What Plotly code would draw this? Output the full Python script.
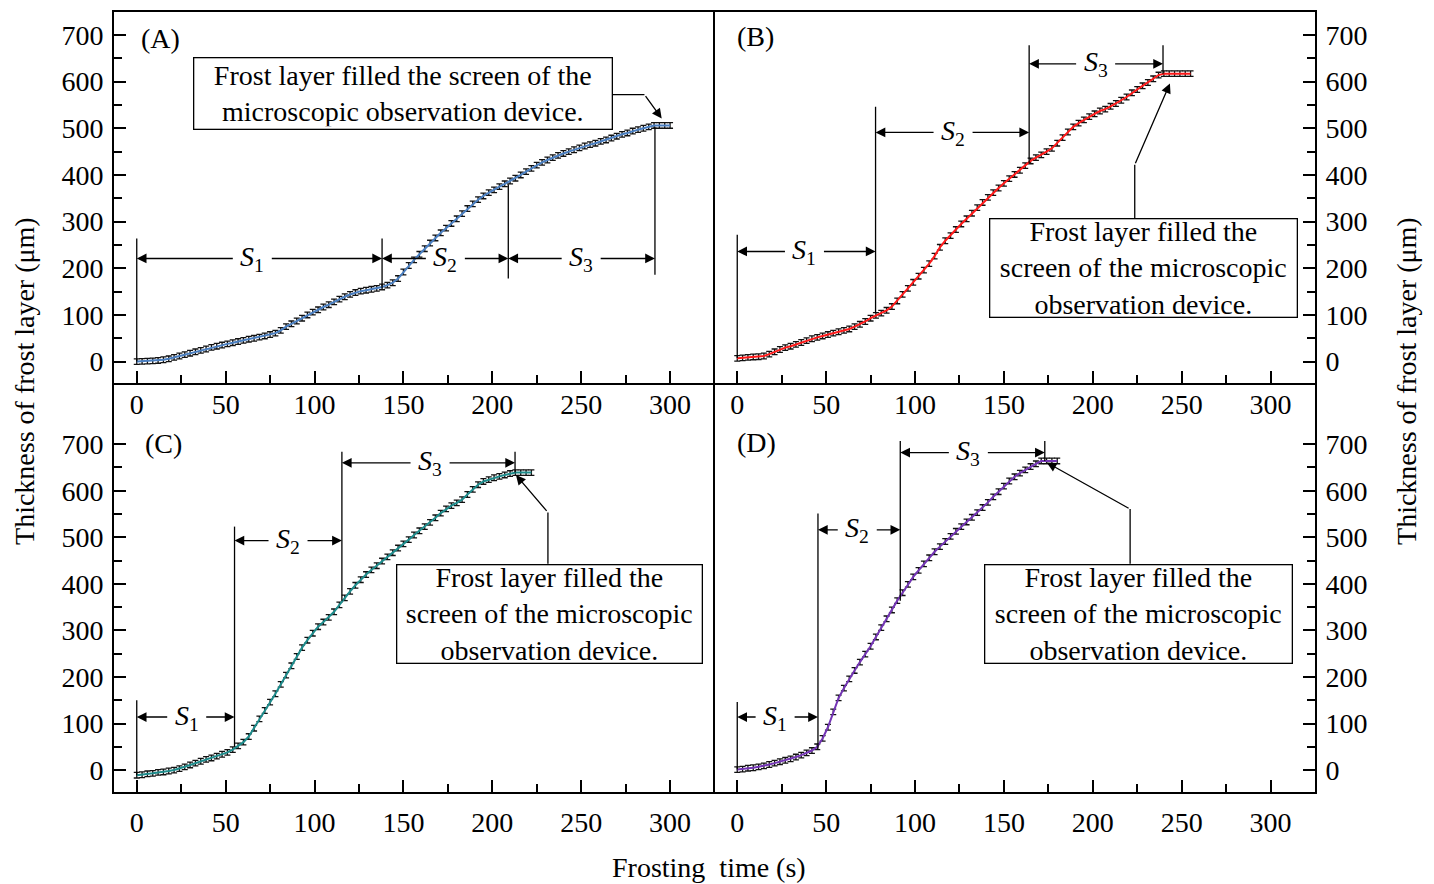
import plotly.graph_objects as go

FONT = "Liberation Serif"
FS = 28

# ---------------- data ----------------
time_A = list(range(0, 301, 3))
thick_A = [0, 0.5, 1, 1.5, 2.5, 4, 6, 9, 12, 15,
           18, 21, 24, 27, 30.5, 33, 35.5, 38, 40.5, 43,
           45.5, 48, 50, 52.5, 55, 58, 61, 67, 75, 81,
           87, 93, 100, 106, 111, 117, 122, 128, 134, 139,
           144, 148, 151, 153, 155, 157, 160, 164, 169, 178,
           192, 206, 218, 230, 242, 254, 265, 276, 286, 296,
           306, 317, 328, 338, 347, 355, 362, 368, 375, 381,
           387, 393, 400, 407, 414, 421, 427, 432, 437, 442,
           446, 450, 454, 458, 462, 465, 468, 472, 475, 479,
           483, 487, 490, 494, 497, 500, 503, 506, 506, 506,
           506]

time_B = list(range(0, 256, 3))
thick_B = [7, 8, 9, 10, 10.5, 12, 16, 21, 26, 30,
           33, 37, 41, 45, 49, 52, 55, 58, 61, 64,
           67, 70, 75, 80, 86, 93, 99, 104, 110, 118,
           130, 144, 157, 170, 183, 196, 210, 226, 245, 259,
           270, 283, 295, 306, 318, 330, 341, 352, 362, 372,
           382, 392, 401, 410, 420, 430, 437, 443, 450, 457,
           468, 480, 492, 503, 511, 518, 525, 531, 537, 541,
           547, 553, 560, 567, 576, 583, 591, 598, 606, 614,
           617, 617, 617, 617, 617, 617]

time_C = list(range(0, 223, 3))
thick_C = [-11, -10, -8, -7, -5, -4, -2, 0, 3, 7,
           11, 15, 19, 23, 26, 30, 34, 38, 44, 52,
           60, 72, 90, 110, 128, 146, 164, 184, 204, 224,
           244, 263, 279, 294, 308, 318, 328, 340, 355, 370,
           384, 397, 409, 420, 430, 439, 449, 458, 467, 477,
           486, 495, 505, 514, 523, 532, 542, 552, 561, 568,
           574, 581, 592, 603, 613, 620, 624, 628, 631, 634,
           637, 639, 639, 639, 639]

time_D = list(range(0, 181, 3))
thick_D = [1, 2, 4, 5, 7, 9, 12, 15, 18, 21,
           24, 28, 32, 37, 42, 50, 68, 92, 125, 155,
           176, 196, 214, 232, 249, 266, 286, 306, 325, 344,
           364, 381, 399, 415, 429, 443, 456, 469, 480, 491,
           502, 513, 523, 533, 543, 553, 564, 575, 587, 598,
           610, 621, 630, 638, 645, 652, 658, 664, 664, 664,
           664]

err_A, err_B, err_C, err_D = 6, 6, 6, 6

# stage boundaries (s), vertical-line extents (um), arrow levels, label times
bounds_A = [0, 138, 209, 291.5]
tops_A = [264, 264, 380, 503]
bots_A = [0, 157, 178, 186]
levels_A = [221, 221, 221]
labt_A = [65, 173.6, 250]

bounds_B = [0, 77.8, 164.2, 239.5]
tops_B = [272, 546, 678, 678]
bots_B = [8, 104, 425, 617]
levels_B = [236, 491, 638]
labt_B = [37.8, 121.4, 201.6]

bounds_C = [0, 55, 115.4, 212.8]
tops_C = [150, 523, 684, 684]
bots_C = [-11, 50, 364, 639]
levels_C = [114, 493, 660]
labt_C = [28.1, 85.1, 165]

bounds_D = [0, 45.4, 91.7, 173]
tops_D = [146, 551, 707, 707]
bots_D = [1, 46, 364, 664]
levels_D = [114, 516, 682]
labt_D = [21.3, 67.5, 130]

x_ticks = [0, 50, 100, 150, 200, 250, 300]
x_minor = [25, 75, 125, 175, 225, 275]
y_ticks = [0, 100, 200, 300, 400, 500, 600, 700]
y_minor = [50, 150, 250, 350, 450, 550, 650]

panel_names = ["(A)", "(B)", "(C)", "(D)"]
colors = ["#4a7fc1", "#ff1a1a", "#1e8c8c", "#7435b5"]

note2 = "Frost layer filled the screen of the<br>microscopic observation device."
note3 = "Frost layer filled the<br>screen of the microscopic<br>observation device."

# callout: box centre, box size (px), leader corner, arrow tip
callouts = [
    dict(text=note2, cx=149.5, cy=574, w=413, h=66, p0=(267.3, 572), p1=(285.6, 572), tip=(295.3, 521)),
    dict(text=note3, cx=228.3, cy=200, w=302, h=93, p0=(223.6, 306), p1=(223.6, 421.7), tip=(243.4, 596)),
    dict(text=note3, cx=232.3, cy=336, w=300, h=93, p0=(231.3, 443), p1=(231.3, 553.5), tip=(213.3, 634)),
    dict(text=note3, cx=225.6, cy=336, w=302, h=93, p0=(221, 443), p1=(221, 560.7), tip=(174.1, 660.6)),
]
label_pos = [(1, 692), (-1.5, 696), (3.7, 701), (-1.4, 703)]

series = [(time_A, thick_A, err_A), (time_B, thick_B, err_B),
          (time_C, thick_C, err_C), (time_D, thick_D, err_D)]
stages = [(bounds_A, tops_A, bots_A, levels_A, labt_A),
          (bounds_B, tops_B, bots_B, levels_B, labt_B),
          (bounds_C, tops_C, bots_C, levels_C, labt_C),
          (bounds_D, tops_D, bots_D, levels_D, labt_D)]

# ---------------- figure ----------------
fig = go.Figure()
top_split = 0.5243
x_dom = [[0, 0.5], [0.5, 1], [0, 0.5], [0.5, 1]]
y_dom = [[top_split, 1], [top_split, 1], [0, top_split], [0, top_split]]
y_rng = [[-45.9, 749.1], [-45.9, 749.1], [-47.1, 831.4], [-47.1, 831.4]]
x_rng = [-12.8, 325.0]
x_mirror = [True, True, False, False]
y_mirror = [False, True, False, True]
x_standoff = [-5, -5, 4, 4]

shapes = []
annotations = []

for i in range(4):
    sfx = "" if i == 0 else str(i + 1)
    xr, yr = "x" + sfx, "y" + sfx
    t, v, e = series[i]
    fig.add_trace(go.Scatter(
        x=t, y=v, mode="lines", xaxis=xr, yaxis=yr,
        line=dict(color=colors[i], width=2),
        error_y=dict(type="constant", value=e, color="#111111", thickness=1.3, width=3),
        showlegend=False))

    side = "left" if i in (0, 2) else "right"
    fig.layout["xaxis" + sfx] = dict(
        domain=x_dom[i], range=x_rng, anchor=yr,
        showline=True, linecolor="black", linewidth=2, mirror=x_mirror[i],
        ticks="inside", ticklen=12, tickwidth=1.5, tickcolor="black",
        tickmode="array", tickvals=x_ticks, ticklabelstandoff=x_standoff[i],
        minor=dict(ticks="inside", ticklen=8, tickwidth=1.5, tickcolor="black",
                   tickmode="array", tickvals=x_minor),
        showgrid=False, zeroline=False,
        tickfont=dict(family=FONT, size=FS, color="black"))
    fig.layout["yaxis" + sfx] = dict(
        domain=y_dom[i], range=y_rng[i], anchor=xr, side=side,
        showline=True, linecolor="black", linewidth=2, mirror=y_mirror[i],
        ticks="inside", ticklen=12, tickwidth=1.5, tickcolor="black",
        tickmode="array", tickvals=y_ticks, ticklabelstandoff=3,
        minor=dict(ticks="inside", ticklen=8, tickwidth=1.5, tickcolor="black",
                   tickmode="array", tickvals=y_minor),
        showgrid=False, zeroline=False,
        tickfont=dict(family=FONT, size=FS, color="black"))

    # stage boundary lines
    b, tp, bt, lv, lt = stages[i]
    for k in range(4):
        shapes.append(dict(type="line", xref=xr, yref=yr, x0=b[k], x1=b[k], y0=bt[k], y1=tp[k],
                           line=dict(color="black", width=1.3)))
    for k in range(3):
        lab = "<i>S</i><sub>%d</sub>" % (k + 1)
        for j, tgt in enumerate((b[k], b[k + 1])):
            annotations.append(dict(
                xref=xr, yref=yr, axref=xr, ayref=yr,
                x=tgt, y=lv[k], ax=lt[k], ay=lv[k],
                text=lab, showarrow=True, arrowhead=2, arrowsize=1.5, arrowwidth=1.3,
                arrowcolor="black", borderpad=7,
                font=dict(family=FONT, size=FS, color="black" if j == 0 else "rgba(0,0,0,0)")))

    # callout box
    c = callouts[i]
    annotations.append(dict(
        xref=xr, yref=yr, x=c["cx"], y=c["cy"], text=c["text"], showarrow=False,
        xanchor="center", yanchor="middle", width=c["w"], height=c["h"], align="center",
        bgcolor="white", bordercolor="black", borderwidth=1.3, borderpad=2,
        font=dict(family=FONT, size=FS, color="black")))
    shapes.append(dict(type="line", xref=xr, yref=yr, x0=c["p0"][0], y0=c["p0"][1],
                       x1=c["p1"][0], y1=c["p1"][1], line=dict(color="black", width=1.3)))
    annotations.append(dict(
        xref=xr, yref=yr, axref=xr, ayref=yr, x=c["tip"][0], y=c["tip"][1],
        ax=c["p1"][0], ay=c["p1"][1], text="", showarrow=True, arrowhead=2,
        arrowsize=1.5, arrowwidth=1.3, arrowcolor="black"))

    # panel label
    annotations.append(dict(
        xref=xr, yref=yr, x=label_pos[i][0], y=label_pos[i][1], text=panel_names[i],
        showarrow=False, xanchor="left", yanchor="middle",
        font=dict(family=FONT, size=FS, color="black")))

ytitle = "Thickness of frost layer (\u03bcm)"
annotations.append(dict(xref="paper", yref="paper", x=-0.0741, y=0.527, text=ytitle,
                        textangle=-90, showarrow=False, xanchor="center", yanchor="middle",
                        font=dict(family=FONT, size=FS, color="black")))
annotations.append(dict(xref="paper", yref="paper", x=1.0766, y=0.527, text=ytitle,
                        textangle=-90, showarrow=False, xanchor="center", yanchor="middle",
                        font=dict(family=FONT, size=FS, color="black")))
annotations.append(dict(xref="paper", yref="paper", x=0.4954, y=-0.0972,
                        text="Frosting\u00a0 time (s)", showarrow=False,
                        xanchor="center", yanchor="middle",
                        font=dict(family=FONT, size=FS, color="black")))

fig.update_layout(
    width=1426, height=876,
    margin=dict(l=106, r=119, t=2, b=92),
    paper_bgcolor="white", plot_bgcolor="white",
    shapes=shapes, annotations=annotations,
    font=dict(family=FONT, size=FS, color="black"),
    showlegend=False)

fig.write_html("out.html")
